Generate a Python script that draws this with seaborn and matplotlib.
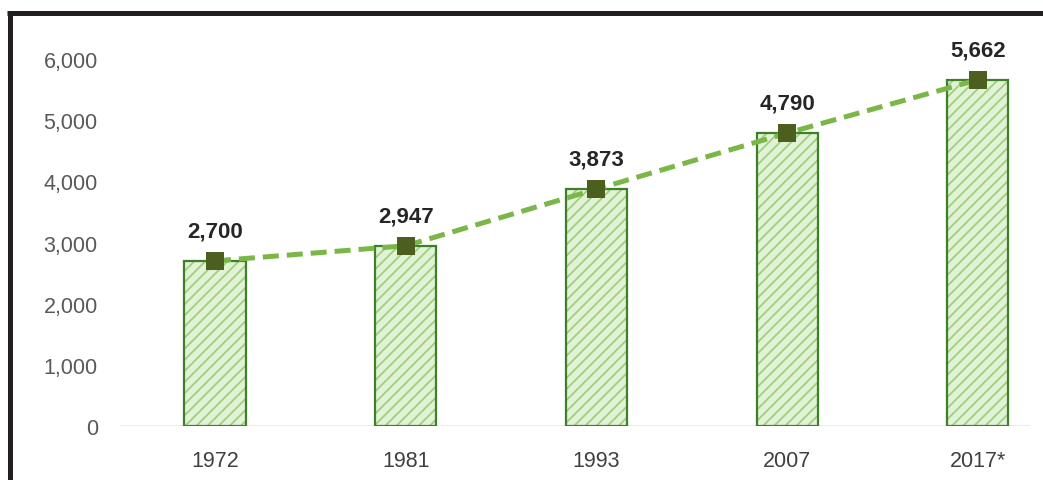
import matplotlib
matplotlib.use("Agg")
import matplotlib.pyplot as plt
from matplotlib.patches import Rectangle
from matplotlib.lines import Line2D
import seaborn as sns
import pandas as pd

# Population figures by census year
years = ["1972", "1981", "1993", "2007", "2017*"]
values = [2700, 2947, 3873, 4790, 5662]
value_labels = ["2,700", "2,947", "3,873", "4,790", "5,662"]
y_ticks = [0, 1000, 2000, 3000, 4000, 5000, 6000]
y_tick_labels = ["0", "1,000", "2,000", "3,000", "4,000", "5,000", "6,000"]

df = pd.DataFrame({"year": years, "value": values})

sns.set_theme(style="white")
plt.rcParams["hatch.linewidth"] = 1.3

W, H = 1043, 481
fig = plt.figure(figsize=(W / 100, H / 100), dpi=100)
fig.patch.set_facecolor("white")

ax_left, ax_right = 120, 1030
ax_top, ax_bottom = 35, 427
ax = fig.add_axes([ax_left / W, 1 - ax_bottom / H,
                   (ax_right - ax_left) / W, (ax_bottom - ax_top) / H])

fill_color = "#e2f2d6"
hatch_color = "#9fd07e"
edge_color = "#3f7f2a"
line_color = "#7ab648"
marker_color = "#4d5f1e"

sns.barplot(data=df, x="year", y="value", ax=ax, color=fill_color,
            width=0.32, edgecolor=hatch_color, linewidth=0, hatch="///",
            saturation=1, zorder=2)

# outline each bar in dark green
for bar in list(ax.patches):
    ax.add_patch(Rectangle((bar.get_x(), bar.get_y()), bar.get_width(),
                           bar.get_height(), fill=False, edgecolor=edge_color,
                           linewidth=1.6, zorder=3))

xs = list(range(len(years)))
ax.plot(xs, values, linestyle=(0, (3.2, 1.6)), color=line_color,
        linewidth=3.6, zorder=4)
ax.plot(xs, values, linestyle="none", marker="s", markersize=13,
        color=marker_color, markeredgewidth=0, zorder=5)

for x, v, lab in zip(xs, values, value_labels):
    ax.annotate(lab, (x, v), xytext=(0, 14), textcoords="offset points",
                ha="center", va="bottom", fontsize=16, fontweight="bold",
                color="#262626", family=["Liberation Sans", "DejaVu Sans"])

ax.axhline(0, color="#ececec", linewidth=1.5, zorder=1)

ax.set_xlim(-0.498, 4.273)
ax.set_ylim(0, 6410)
ax.set_yticks(y_ticks)
ax.set_yticklabels(y_tick_labels)
ax.set_xlabel("")
ax.set_ylabel("")
for s in ax.spines.values():
    s.set_visible(False)
ax.tick_params(axis="y", length=0, pad=16, labelsize=15.5, labelcolor="#595959")
ax.tick_params(axis="x", length=0, pad=17, labelsize=15.5, labelcolor="#404040")
for lab in ax.get_xticklabels() + ax.get_yticklabels():
    lab.set_family(["Liberation Sans Narrow", "Liberation Sans", "DejaVu Sans"])

# black frame along the top and left
frame = "#231f20"
fig.add_artist(Line2D([7 / W, 1], [1 - 14 / H, 1 - 14 / H], color=frame,
                      linewidth=3.6, solid_capstyle="butt"))
fig.add_artist(Line2D([9.5 / W, 9.5 / W], [1 - 12 / H, 0], color=frame,
                      linewidth=3.6, solid_capstyle="butt"))

fig.savefig("out.png", dpi=100, facecolor="white")
